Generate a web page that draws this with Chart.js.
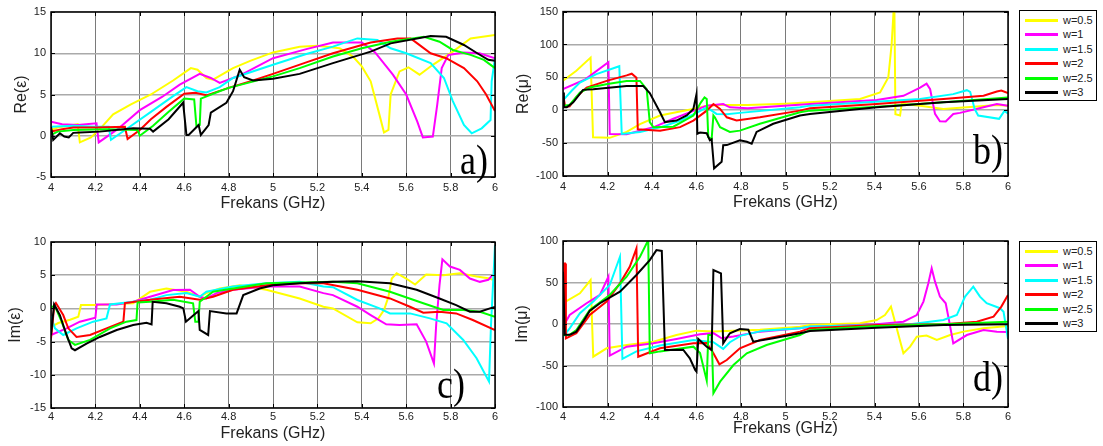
<!DOCTYPE html>
<html>
<head>
<meta charset="utf-8">
<script src="https://cdn.jsdelivr.net/npm/chart.js@4"></script>
<style>
  body { margin: 0; background: #fff; width: 1103px; height: 446px; position: relative; overflow: hidden;
         font-family: "Liberation Sans", Arial, sans-serif; }
  canvas { position: absolute; }
  .legend { position: absolute; width: 78px; height: 91px; border: 1.5px solid #000; box-sizing: border-box; background: #fff; }
  .legend .row { position: absolute; left: 5px; width: 70px; height: 14px; }
  .legend .row i { position: absolute; left: 0; top: 6px; width: 33px; height: 3px; }
  .legend .row span { position: absolute; left: 38px; top: 0; font-size: 11px; line-height: 14px; color: #222; }
</style>
</head>
<body>
<canvas id="reEps" width="512" height="222" style="left:0;top:0"></canvas>
<canvas id="reMu" width="505" height="222" style="left:512px;top:0"></canvas>
<canvas id="imEps" width="512" height="224" style="left:0;top:222px"></canvas>
<canvas id="imMu" width="505" height="224" style="left:512px;top:222px"></canvas>
<div id="legReMu" class="legend" style="left:1019px;top:10px"></div>
<div id="legImMu" class="legend" style="left:1019px;top:241px"></div>

<script>
const seriesNames = ['w=0.5', 'w=1', 'w=1.5', 'w=2', 'w=2.5', 'w=3'];
const seriesColors = ['#ffff00', '#ff00ff', '#00ffff', '#ff0000', '#00ff00', '#000000'];

// Re(eps) vs frequency [GHz, value]
const reEps05 = [[4,0.7],[4.03,1.0],[4.08,1.2],[4.12,1.4],[4.13,-0.8],[4.18,-0.2],[4.23,1.1],[4.28,2.6],[4.36,3.8],[4.45,5.0],[4.55,6.7],[4.63,8.2],[4.66,8.0],[4.7,7.0],[4.73,6.8],[4.82,8.2],[4.9,9.1],[5.0,10.1],[5.12,10.8],[5.2,10.9],[5.3,10.6],[5.36,9.6],[5.4,8.4],[5.44,6.6],[5.48,2.5],[5.5,0.4],[5.52,0.7],[5.53,5.0],[5.57,7.8],[5.61,8.3],[5.66,7.4],[5.72,8.6],[5.81,10.2],[5.89,11.8],[6.0,12.2]];
const reEps1 = [[4,1.7],[4.05,1.4],[4.12,1.3],[4.205,1.5],[4.215,-0.8],[4.3,0.8],[4.4,3.1],[4.5,4.7],[4.58,6.2],[4.67,7.5],[4.72,7.0],[4.76,6.4],[4.85,7.3],[5.0,9.4],[5.15,10.5],[5.27,11.3],[5.4,11.3],[5.46,10.1],[5.54,7.4],[5.6,5.0],[5.65,1.7],[5.675,-0.2],[5.72,-0.1],[5.74,3.8],[5.76,8.2],[5.79,9.8],[5.86,10.1],[5.93,10.0],[6.0,9.4]];
const reEps15 = [[4,1.1],[4.1,1.2],[4.2,1.1],[4.26,1.1],[4.27,-0.5],[4.35,1.0],[4.45,2.9],[4.55,4.8],[4.61,5.9],[4.66,5.4],[4.7,5.25],[4.76,5.9],[4.82,7.0],[5.0,8.6],[5.15,9.9],[5.27,10.8],[5.38,11.8],[5.47,11.6],[5.53,10.6],[5.6,10.0],[5.71,8.8],[5.77,7.0],[5.81,4.2],[5.86,1.3],[5.895,0.3],[5.94,0.9],[5.98,1.9],[5.985,6.6],[6.0,9.4]];
const reEps2 = [[4,0.5],[4.05,0.8],[4.1,1.0],[4.2,1.0],[4.333,1.1],[4.345,-0.4],[4.4,0.7],[4.45,2.0],[4.52,3.5],[4.6,5.1],[4.65,5.2],[4.7,4.9],[4.8,5.8],[4.9,6.6],[5.0,7.5],[5.15,8.9],[5.27,10.0],[5.44,11.3],[5.56,11.8],[5.62,11.8],[5.65,11.2],[5.71,10.0],[5.78,9.4],[5.86,8.2],[5.92,6.6],[5.96,5.0],[6.0,3.0]];
const reEps25 = [[4,0.1],[4.03,0.5],[4.1,0.7],[4.25,0.8],[4.39,0.7],[4.4,0.0],[4.46,1.2],[4.53,2.9],[4.6,4.5],[4.645,4.4],[4.655,1.2],[4.67,1.3],[4.675,4.5],[4.75,5.3],[4.8,5.8],[4.9,6.5],[5.0,7.2],[5.12,8.2],[5.27,9.6],[5.4,10.6],[5.53,11.4],[5.68,12.0],[5.75,11.4],[5.81,10.4],[5.89,9.8],[5.95,9.2],[6.0,8.2]];
const reEps3 = [[4,1.1],[4.01,-0.5],[4.04,0.3],[4.06,-0.1],[4.08,-0.2],[4.1,0.35],[4.13,0.4],[4.22,0.5],[4.37,0.9],[4.446,0.85],[4.46,0.5],[4.53,2.0],[4.595,4.0],[4.61,0.1],[4.62,0.1],[4.665,1.3],[4.675,0.1],[4.71,1.3],[4.72,2.8],[4.79,4.0],[4.82,5.4],[4.85,8.0],[4.87,7.1],[4.91,6.7],[5.0,6.9],[5.12,7.5],[5.27,8.8],[5.44,10.2],[5.53,11.2],[5.71,12.1],[5.78,12.0],[5.86,11.0],[5.92,10.0],[5.97,9.2],[6.0,9.1]];

// Re(mu)
const reMu05 = [[4,45],[4.06,60],[4.124,80],[4.135,-41],[4.21,-42],[4.286,-33],[4.346,-21],[4.436,-8],[4.526,-2],[4.585,2],[4.646,7],[4.706,8],[4.83,8],[5.0,10],[5.11,12],[5.335,17],[5.425,27],[5.462,50],[5.477,100],[5.489,170],[5.494,-6],[5.515,-8],[5.522,10],[5.605,7],[5.71,2],[5.83,5],[5.95,8],[6.0,7]];
const reMu1 = [[4,32],[4.1,47],[4.204,73],[4.21,-36],[4.286,-36.5],[4.406,-26],[4.496,-13],[4.586,-1],[4.646,7],[4.72,9.5],[4.75,4.4],[4.83,3],[5.11,9.5],[5.41,15.5],[5.53,22],[5.605,34.5],[5.634,40.5],[5.65,32],[5.672,-5.6],[5.694,-16.7],[5.72,-17],[5.754,-5.6],[5.784,-4],[5.89,4.4],[5.95,9.5],[6.0,7]];
const reMu15 = [[4,15],[4.04,30],[4.076,42],[4.15,55],[4.253,67],[4.264,-36],[4.346,-33],[4.436,-26],[4.526,-16],[4.6,-4],[4.646,4.4],[4.69,-5.6],[4.736,-6],[4.795,-4],[5.065,4.4],[5.11,7],[5.605,17],[5.754,24.5],[5.815,30.5],[5.83,28],[5.85,2],[5.866,-8],[5.96,-13],[5.984,-1],[6.0,-5]];
const reMu2 = [[4,25],[4.01,5],[4.03,6],[4.06,20],[4.106,34.5],[4.2,45],[4.286,53],[4.309,55.6],[4.33,49.5],[4.336,-29],[4.436,-31],[4.526,-25.7],[4.586,-15.7],[4.646,-0.6],[4.676,9.5],[4.706,2],[4.736,-10.7],[4.78,-15.7],[4.885,-10.7],[5.065,-0.6],[5.11,3],[5.41,9.5],[5.71,17],[5.89,22],[5.95,28.5],[5.97,30],[6.0,26]];
const reMu25 = [[4,7],[4.03,8],[4.076,27],[4.12,34.5],[4.2,40],[4.286,44.6],[4.346,44.6],[4.376,32],[4.39,-18],[4.406,-25.7],[4.496,-25],[4.586,-8],[4.62,12],[4.636,19.5],[4.646,17],[4.653,-41],[4.668,-44],[4.676,-8],[4.683,-11],[4.706,-25.7],[4.75,-33],[4.795,-31],[4.885,-20.6],[5.065,-3],[5.11,-0.6],[5.41,5.4],[5.71,12],[6.0,19.5]];
const reMu3 = [[4,27],[4.004,4.4],[4.017,4.4],[4.046,12],[4.09,31],[4.136,32],[4.286,37],[4.36,37],[4.39,26],[4.436,-3],[4.458,-18],[4.51,-15.7],[4.556,-8],[4.586,2],[4.6,24.5],[4.604,-35.7],[4.616,-34],[4.646,-35],[4.66,-45.8],[4.668,-44],[4.679,-88.4],[4.713,-78.5],[4.72,-53.3],[4.736,-53],[4.795,-45.8],[4.826,-48],[4.848,-50.8],[4.87,-33],[4.945,-20.6],[5.065,-8],[5.11,-5.6],[5.41,4.4],[5.71,12],[6.0,17]];

// Im(eps)
const imEps05 = [[4,-2.8],[4.033,-2.2],[4.086,-1.7],[4.123,-1.25],[4.135,0.5],[4.206,0.5],[4.37,0.77],[4.446,2.5],[4.52,3.0],[4.61,2.5],[4.67,1.76],[4.7,2.3],[4.76,3.0],[4.85,3.5],[4.97,2.8],[5.12,1.5],[5.227,0.25],[5.27,0],[5.38,-2.1],[5.44,-2.25],[5.475,-1.5],[5.5,-0.25],[5.52,1.76],[5.535,4.5],[5.557,5.3],[5.6,4.5],[5.64,3.6],[5.69,5.1],[5.767,5.0],[5.842,5.3],[5.917,4.8],[5.977,4.5],[5.99,4.3]];
const imEps1 = [[4,-4],[4.07,-3],[4.13,-2],[4.2,-1.4],[4.206,0.6],[4.296,0.6],[4.37,1.0],[4.446,1.76],[4.55,2.77],[4.626,2.8],[4.67,1.76],[4.7,1.5],[4.746,2.3],[4.82,2.8],[4.97,3.3],[5.12,3.3],[5.227,2.3],[5.27,2.0],[5.38,0.25],[5.44,-1.0],[5.51,-2.4],[5.57,-2.5],[5.647,-2.4],[5.69,-5.0],[5.725,-8.3],[5.735,-2.5],[5.75,3.5],[5.763,7.4],[5.797,6.3],[5.842,5.8],[5.887,4.5],[5.932,4.0],[5.97,4.3],[5.985,4.9]];
const imEps15 = [[4,-1.2],[4.018,-3.0],[4.055,-4.0],[4.115,-3.0],[4.19,-2.0],[4.25,-1.5],[4.266,0.6],[4.37,1.0],[4.446,1.3],[4.52,2.0],[4.61,2.3],[4.67,1.76],[4.7,2.5],[4.82,3.3],[4.97,3.8],[5.12,4.0],[5.227,3.3],[5.27,3.2],[5.38,1.27],[5.48,0],[5.527,-0.75],[5.617,-0.75],[5.707,-1.5],[5.782,-2.25],[5.857,-4.75],[5.917,-7.5],[5.973,-11],[5.982,-2.5],[6.0,9.5]];
const imEps2 = [[4,-4.5],[4.015,0.5],[4.022,0.8],[4.055,-1.0],[4.078,-3.0],[4.115,-4.3],[4.176,-4.0],[4.25,-3.0],[4.326,-2.0],[4.333,0.8],[4.446,1.3],[4.58,1.76],[4.67,1.3],[4.73,1.76],[4.82,2.8],[4.97,3.5],[5.12,3.8],[5.227,3.8],[5.38,2.8],[5.527,1.5],[5.617,0.25],[5.677,-0.65],[5.75,-0.5],[5.825,-0.75],[5.9,-1.75],[6.0,-3.25]];
const imEps25 = [[4,0.25],[4.018,0.3],[4.048,-2],[4.078,-4.75],[4.108,-5.5],[4.176,-4.75],[4.266,-3],[4.34,-2],[4.385,-1.75],[4.39,0.9],[4.446,1.0],[4.55,1.3],[4.64,0.77],[4.65,-2.0],[4.664,-2],[4.67,1.0],[4.73,2.5],[4.82,3.0],[4.97,3.8],[5.12,3.9],[5.27,4.0],[5.38,3.8],[5.527,2.5],[5.677,0.77],[5.767,-0.25],[5.857,-0.25],[5.932,-0.5],[6.0,-1.25]];
const imEps3 = [[4,-4],[4.014,0.6],[4.04,-1],[4.07,-4],[4.093,-6.0],[4.108,-6.3],[4.16,-5.3],[4.22,-4.3],[4.296,-3.25],[4.37,-2.5],[4.43,-2.15],[4.453,-2.4],[4.458,1.0],[4.52,0.77],[4.58,0.25],[4.596,0],[4.608,-2.0],[4.634,-1.25],[4.664,-0.4],[4.67,-3.25],[4.708,-4.0],[4.716,-0.4],[4.79,-0.75],[4.836,-0.75],[4.866,2.0],[4.94,3.0],[5.0,3.5],[5.12,3.8],[5.27,4.0],[5.38,4.1],[5.527,3.8],[5.647,2.8],[5.75,1.5],[5.825,0.5],[5.887,-0.5],[5.932,-0.5],[5.977,0],[6.0,0.2]];

// Im(mu)
const imMu05 = [[4,25],[4.076,37],[4.124,53],[4.136,-39.4],[4.196,-29.3],[4.286,-25.3],[4.406,-21.3],[4.51,-13.3],[4.6,-8],[4.676,-9],[4.885,-7],[5.065,-3.2],[5.11,-1.2],[5.335,0.8],[5.41,4.8],[5.447,10.8],[5.474,20.9],[5.492,2.8],[5.53,-35.3],[5.56,-27.3],[5.59,-15.3],[5.634,-14],[5.68,-19.3],[5.74,-13.3],[5.8,-9.2],[5.89,-5.2],[6.0,-2.4]];
const imMu1 = [[4,-3.2],[4.03,10.8],[4.106,25],[4.166,35],[4.204,57],[4.21,-38.2],[4.286,-27.3],[4.406,-23.3],[4.51,-18],[4.616,-12.4],[4.676,-11],[4.713,-17.2],[4.766,-15],[4.885,-9.2],[5.065,-5],[5.11,-3.2],[5.41,-0.4],[5.53,2.8],[5.59,10.8],[5.62,27],[5.642,49],[5.657,67],[5.672,51],[5.694,33],[5.72,25],[5.736,2.8],[5.754,-23.3],[5.815,-13.3],[5.89,-7.2],[5.95,-9.2],[6.0,-9.6]];
const imMu15 = [[4,-15.3],[4.03,-5.2],[4.076,13],[4.136,27],[4.21,47],[4.256,81],[4.267,-42],[4.33,-33],[4.436,-26],[4.586,-19.3],[4.676,-22],[4.72,-30],[4.75,-22],[4.8,-14],[4.9,-8],[5.065,-5],[5.11,-3],[5.56,-0.4],[5.71,4.8],[5.77,10.8],[5.807,33],[5.844,45],[5.874,33],[5.904,25],[5.964,19],[5.98,14.8],[6.0,-18]];
const imMu2 = [[4,-5],[4.004,73],[4.009,73],[4.013,-17.2],[4.06,-11],[4.12,10.8],[4.196,27],[4.256,49],[4.3,69],[4.33,91],[4.338,-39.4],[4.436,-29.3],[4.586,-23.3],[4.646,-23],[4.676,-35.3],[4.703,-48.6],[4.736,-43.4],[4.795,-29.3],[4.885,-19.3],[5.065,-9.2],[5.11,-5.2],[5.41,-1.2],[5.71,-0.4],[5.86,2.8],[5.935,8.8],[5.97,21],[6.0,35]];
const imMu25 = [[4,-13.3],[4.03,-13],[4.06,-7.2],[4.12,17],[4.21,35],[4.286,57],[4.346,81],[4.383,101],[4.39,-35.3],[4.436,-33],[4.586,-27.3],[4.616,-35],[4.646,-68.3],[4.653,-13.3],[4.668,-13.3],[4.676,-83.5],[4.706,-69.5],[4.766,-49.4],[4.826,-35.3],[4.915,-25.3],[5.065,-13.3],[5.11,-7.2],[5.41,-2.4],[5.71,-0.4],[6.0,2.8]];
const imMu3 = [[4,63],[4.008,-13],[4.03,-13],[4.06,-9.2],[4.09,2.8],[4.12,15.7],[4.166,25],[4.256,39],[4.33,59],[4.39,77],[4.42,89],[4.444,88],[4.458,-31.3],[4.54,-31],[4.57,-41.3],[4.594,-55.4],[4.6,-57.4],[4.608,-18],[4.646,-27.3],[4.668,-31.3],[4.676,65],[4.71,61],[4.72,-23.3],[4.75,-11.2],[4.795,-6],[4.833,-7],[4.855,-21.3],[4.945,-17.2],[5.065,-11.2],[5.11,-8.4],[5.41,-4.4],[5.71,-1.2],[6.0,-0.4]];

// frame with inward tick marks + the panel letter
const framePlugin = {
  id: 'frame',
  afterDraw(chart, args, opts) {
    const {ctx, chartArea: a, scales} = chart;
    ctx.save();
    ctx.strokeStyle = '#000';
    ctx.lineWidth = 1;
    ctx.beginPath();
    scales.x.ticks.forEach(t => {
      const px = Math.round(scales.x.getPixelForValue(t.value)) + 0.5;
      ctx.moveTo(px, a.bottom); ctx.lineTo(px, a.bottom - 4);
      ctx.moveTo(px, a.top); ctx.lineTo(px, a.top + 4);
    });
    scales.y.ticks.forEach(t => {
      const py = Math.round(scales.y.getPixelForValue(t.value)) + 0.5;
      ctx.moveTo(a.left, py); ctx.lineTo(a.left + 4, py);
      ctx.moveTo(a.right, py); ctx.lineTo(a.right - 4, py);
    });
    ctx.stroke();
    ctx.lineWidth = 1.5;
    ctx.strokeRect(a.left, a.top, a.right - a.left, a.bottom - a.top);

    ctx.translate(a.right - opts.dx, a.bottom - opts.dy);
    ctx.scale(1, 1.15);
    ctx.fillStyle = '#000';
    ctx.font = '36px "Liberation Serif", "Times New Roman", serif';
    ctx.textAlign = 'right';
    ctx.textBaseline = 'alphabetic';
    ctx.fillText(opts.letter, 0, 0);
    ctx.restore();
  }
};

function makeChart(id, series, cfg) {
  const datasets = series.map((pts, i) => ({
    label: seriesNames[i],
    data: pts.map(p => ({x: p[0], y: p[1]})),
    borderColor: seriesColors[i],
    borderWidth: 2,
    pointRadius: 0,
    tension: 0,
    order: series.length - i
  }));
  return new Chart(document.getElementById(id), {
    type: 'line',
    data: {datasets: datasets},
    plugins: [framePlugin],
    options: {
      responsive: false,
      animation: false,
      layout: {padding: {top: cfg.top, right: cfg.right, left: 0, bottom: 0}},
      plugins: {
        legend: {display: false},
        tooltip: {enabled: false},
        frame: {letter: cfg.letter, dx: cfg.letterDx, dy: cfg.letterDy}
      },
      scales: {
        x: {
          type: 'linear', min: 4, max: 6,
          ticks: {stepSize: 0.2, autoSkip: false, maxRotation: 0, padding: cfg.xTickPad,
                  color: '#222', font: {size: 11},
                  callback: v => String(Math.round(v * 10) / 10)},
          grid: {color: '#7a7a7a', drawTicks: false},
          border: {display: false},
          title: {display: true, text: 'Frekans (GHz)', color: '#222', font: {size: 16},
                  padding: {top: 0, bottom: cfg.xTitlePad}},
          afterFit: s => { s.height = cfg.xHeight; }
        },
        y: {
          min: cfg.yMin, max: cfg.yMax,
          ticks: {stepSize: cfg.yStep, padding: 5, color: '#222', font: {size: 11},
                  callback: v => String(v)},
          grid: {color: '#aaaaaa', lineWidth: 1.5, drawTicks: false},
          border: {display: false},
          title: {display: true, text: cfg.yTitle, color: '#222', font: {size: 16},
                  padding: {top: cfg.yTitlePad, bottom: 0}},
          afterFit: s => { s.width = 51; }
        }
      }
    }
  });
}

makeChart('reEps', [reEps05, reEps1, reEps15, reEps2, reEps25, reEps3], {
  top: 12, right: 17, xHeight: 45, xTickPad: 4, xTitlePad: 9, yTitlePad: 12,
  yMin: -5, yMax: 15, yStep: 5, yTitle: 'Re(ε)', letter: 'a)', letterDx: 7, letterDy: 3
});
makeChart('reMu', [reMu05, reMu1, reMu15, reMu2, reMu25, reMu3], {
  top: 10, right: 9, xHeight: 46, xTickPad: 4, xTitlePad: 10, yTitlePad: 2,
  yMin: -100, yMax: 150, yStep: 50, yTitle: 'Re(μ)', letter: 'b)', letterDx: 5, letterDy: 12
});
makeChart('imEps', [imEps05, imEps1, imEps15, imEps2, imEps25, imEps3], {
  top: 20, right: 17, xHeight: 38, xTickPad: 2, xTitlePad: 3, yTitlePad: 6,
  yMin: -15, yMax: 10, yStep: 5, yTitle: 'Im(ε)', letter: 'c)', letterDx: 30, letterDy: 10
});
makeChart('imMu', [imMu05, imMu1, imMu15, imMu2, imMu25, imMu3], {
  top: 19, right: 9, xHeight: 39, xTickPad: 3, xTitlePad: 8, yTitlePad: 1,
  yMin: -100, yMax: 100, yStep: 50, yTitle: 'Im(μ)', letter: 'd)', letterDx: 5, letterDy: 16
});

// legend boxes next to the mu panels
['legReMu', 'legImMu'].forEach(id => {
  const box = document.getElementById(id);
  seriesNames.forEach((name, i) => {
    const row = document.createElement('div');
    row.className = 'row';
    row.style.top = (2 + i * 14.4) + 'px';
    const line = document.createElement('i');
    line.style.background = seriesColors[i];
    const label = document.createElement('span');
    label.textContent = name;
    row.appendChild(line);
    row.appendChild(label);
    box.appendChild(row);
  });
});
</script>
</body>
</html>
